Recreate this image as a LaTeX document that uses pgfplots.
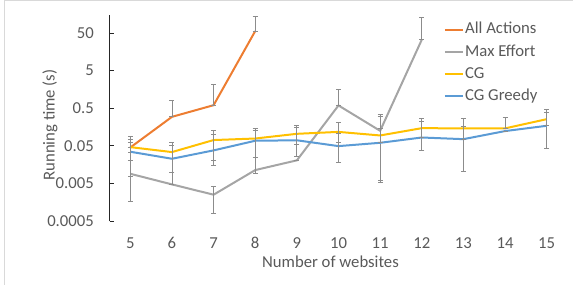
\documentclass[border=0pt]{standalone}
\usepackage{fontspec}
\setmainfont{Carlito}
\usepackage{pgfplots}
\pgfplotsset{compat=1.18}
\definecolor{cOrange}{HTML}{ED7D31}
\definecolor{cGray}{HTML}{A5A5A5}
\definecolor{cYellow}{HTML}{FFC000}
\definecolor{cBlue}{HTML}{5B9BD5}
\definecolor{cText}{HTML}{595959}
\definecolor{cErr}{HTML}{8C8C8C}
\definecolor{cFrame}{HTML}{D9D9D9}
\newcommand{\chfont}{\fontsize{16.7bp}{20bp}\selectfont}
\begin{document}
\begin{tikzpicture}
\useasboundingbox (0,0) rectangle (573bp,285bp);
\draw[cFrame, line width=1bp] (4.5bp,0) -- (4.5bp,284.5bp) -- (573bp,284.5bp);
\begin{axis}[
  at={(109.5bp,64bp)}, anchor=south west,
  scale only axis, width=458bp, height=206bp,
  ymode=log, ymin=0.0005, ymax=150,
  xmin=4.5, xmax=15.5,
  xtick={5,6,7,8,9,10,11,12,13,14,15},
  xticklabels={5,6,7,8,9,10,11,12,13,14,15},
  ytick={0.0005,0.005,0.05,0.5,5,50},
  yticklabels={0.0005,0.005,0.05,0.5,5,50},
  /pgf/number format/assume math mode=true,
  yminorticks=false, xminorticks=false,
  axis lines*=left,
  axis line style={-},
  x axis line style={draw=none},
  y axis line style={black!85, line width=0.75bp},
  tick align=inside,
  major tick length=5bp,
  xtick style={draw=none},
  ytick style={black!85, line width=0.75bp},
  ticklabel style={font=\chfont, text=cText},
  xticklabel style={anchor=center, yshift=-21.7bp},
  yticklabel style={anchor=east, inner sep=0pt, xshift=-15.5bp},
  xlabel={Number of websites},
  ylabel={Running time (s)},
  every axis x label/.style={at={(axis description cs:0.4825,-0.1976)}, anchor=center, font=\chfont, text=cText},
  every axis y label/.style={at={(axis description cs:-0.1299,0.466)}, rotate=90, anchor=center, font=\chfont, text=cText},
  legend style={at={(axis description cs:0.7303,0.9665)}, anchor=north west,
    draw=none, fill=none, font=\chfont, text=cText, inner sep=0pt, outer sep=0pt,
    row sep=6.2bp, column sep=1.5bp,
    nodes={inner sep=0pt, text height=12bp, text depth=4bp}},
  legend cell align=left,
  legend image code/.code={\draw[#1] (0bp,0bp) -- (17.7bp,0bp);},
  every axis plot/.append style={line width=2bp},
  error bars/y dir=both, error bars/y explicit,
  error bars/error bar style={cErr, line width=0.9bp},
  error bars/error mark options={cErr, line width=0.9bp, mark size=2.5bp, rotate=90},
]
\addplot[cOrange, mark=none] coordinates {
 (5,0.045) +=(0,0.045) -=(0,0)
 (6,0.294) +=(0,0.486) -=(0,0)
 (7,0.6) +=(0,1.57) -=(0,0)
 (8,56) +=(0,84) -=(0,0)
};
\addlegendentry{All Actions}
\addplot[cGray, mark=none] coordinates {
 (5,0.009) +=(0,0.011) -=(0,0.0073)
 (6,0.0047) +=(0,0) -=(0,0)
 (7,0.0025) +=(0,0.0016) -=(0,0.0017)
 (8,0.0113) +=(0,0.0137) -=(0,0.002)
 (9,0.0205) +=(0,0) -=(0,0)
 (10,0.59) +=(0,1.01) -=(0,0)
 (11,0.125) +=(0,0.225) -=(0,0.1196)
 (12,33) +=(0,94) -=(0,0)
};
\addlegendentry{Max Effort}
\addplot[cYellow, mark=none] coordinates {
 (5,0.046) +=(0,0.028) -=(0,0.013)
 (6,0.034) +=(0,0.026) -=(0,0.0244)
 (7,0.071) +=(0,0.054) -=(0,0.056)
 (8,0.078) +=(0,0.064) -=(0,0.053)
 (9,0.104) +=(0,0.066) -=(0,0.05)
 (10,0.117) +=(0,0.093) -=(0,0.057)
 (11,0.094) +=(0,0.206) -=(0,0.088)
 (12,0.147) +=(0,0.113) -=(0,0.109)
 (13,0.145) +=(0,0.125) -=(0,0.1347)
 (14,0.145) +=(0,0.145) -=(0,0)
 (15,0.255) +=(0,0.205) -=(0,0.212)
};
\addlegendentry{CG}
\addplot[cBlue, mark=none] coordinates {
 (5,0.0347) +=(0,0.025) -=(0,0.0272)
 (6,0.0226) +=(0,0.029) -=(0,0.0179)
 (7,0.0377) +=(0,0.06) -=(0,0.0177)
 (8,0.068) +=(0,0.062) -=(0,0.0587)
 (9,0.07) +=(0,0.083) -=(0,0.044)
 (10,0.049) +=(0,0.055) -=(0,0.031)
 (11,0.06) +=(0,0.085) -=(0,0)
 (12,0.083) +=(0,0.137) -=(0,0)
 (13,0.075) +=(0,0.085) -=(0,0)
 (14,0.123) +=(0,0) -=(0,0)
 (15,0.17) +=(0,0.21) -=(0,0)
};
\addlegendentry{CG Greedy}
\end{axis}
\end{tikzpicture}
\end{document}
